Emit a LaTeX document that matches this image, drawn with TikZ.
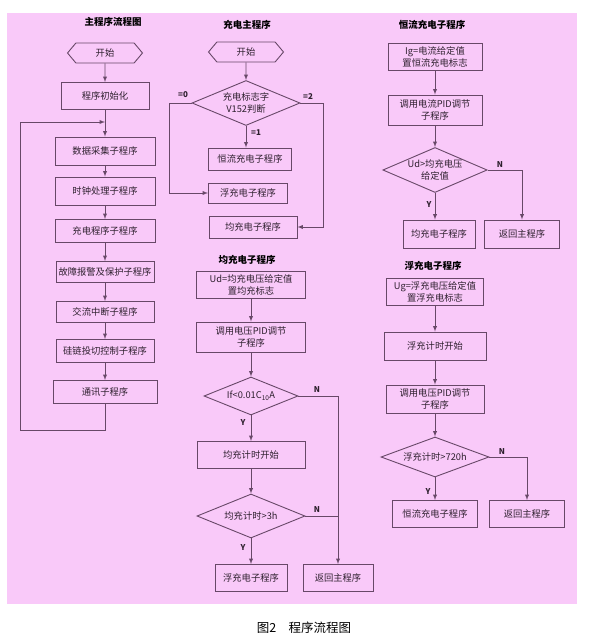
\documentclass[tikz,border=0pt]{standalone}
\usepackage{fontspec}
\setmainfont{Noto Sans CJK SC}
\usetikzlibrary{shapes.geometric,shapes.symbols}
\definecolor{flowpink}{HTML}{F9C9F9}
\definecolor{flowline}{HTML}{684868}
\definecolor{flowtext}{HTML}{2E202E}
\tikzset{
  box/.style={draw=flowline,line width=0.9pt,align=center,inner sep=1pt,text=flowtext,font=\fontsize{9.3}{12}\selectfont},
  startbox/.style={box,signal,signal to=east and west,signal pointer angle=100,minimum width=75pt,minimum height=20pt},
  decision/.style={box,diamond,aspect=2.4,inner sep=0pt},
  flowedge/.style={draw=flowline,line width=0.9pt},
  flowarrow/.style={flowedge,-latex},
  lbl/.style={text=flowtext,font=\fontsize{8}{9}\selectfont\bfseries},
  heading/.style={text=black,font=\fontsize{9.5}{11}\selectfont\bfseries}
}
\begin{document}
\begin{tikzpicture}[x=1pt,y=-1pt]
  \useasboundingbox (0,0) rectangle (593,636);
  \fill[flowpink] (7,13) rectangle (577,604);

  % main program
  \node[heading] (mtitle) at (113,22) {主程序流程图};
  \node[startbox] (mstart) at (105,53) {开始};
  \node[box,minimum width=88pt,minimum height=27pt] (minit) at (105,96) {程序初始化};
  \node[box,minimum width=100pt,minimum height=28pt] (mcollect) at (105,151) {数据采集子程序};
  \node[box,minimum width=100pt,minimum height=28pt] (mclock) at (105,191) {时钟处理子程序};
  \node[box,minimum width=100pt,minimum height=23pt] (mcharge) at (105,231) {充电程序子程序};
  \node[box,minimum width=98pt,minimum height=21pt] (mfault) at (105,272) {故障报警及保护子程序};
  \node[box,minimum width=98pt,minimum height=21pt] (mac) at (105,312) {交流中断子程序};
  \node[box,minimum width=98pt,minimum height=23pt] (mswitch) at (105,351) {硅链投切控制子程序};
  \node[box,minimum width=104pt,minimum height=23pt] (mcomm) at (105,392) {通讯子程序};
  \coordinate (mjoin) at (105,122);
  \draw[flowarrow] (mstart) -- (minit);
  \draw[flowarrow] (minit) -- (mcollect);
  \draw[flowarrow] (mcollect) -- (mclock);
  \draw[flowarrow] (mclock) -- (mcharge);
  \draw[flowarrow] (mcharge) -- (mfault);
  \draw[flowarrow] (mfault) -- (mac);
  \draw[flowarrow] (mac) -- (mswitch);
  \draw[flowarrow] (mswitch) -- (mcomm);
  \draw[flowarrow] (mcomm.south) -- ++(0,26) -| (20,122) -- (mjoin);

  % charging main program
  \node[heading] (ctitle) at (247,25) {充电主程序};
  \node[startbox] (cstart) at (246,52) {开始};
  \node[decision,minimum width=108pt,minimum height=45pt] (cjudge) at (246,103) {充电标志字\\V152判断};
  \node[box,minimum width=83pt,minimum height=22pt] (cconst) at (250,159) {恒流充电子程序};
  \node[box,minimum width=79pt,minimum height=20pt] (cfloat) at (248,193) {浮充电子程序};
  \node[box,minimum width=88pt,minimum height=22pt] (cequal) at (253,227) {均充电子程序};
  \draw[flowarrow] (cstart) -- (cjudge);
  \draw[flowarrow] (cjudge.south) -- (cjudge.south |- cconst.north);
  \draw[flowarrow] (cjudge.west) -- ++(-22,0) |- (cfloat);
  \draw[flowarrow] (cjudge.east) -- ++(23,0) |- (cequal);
  \node[lbl] (czero) at (183,95) {=0};
  \node[lbl] (cone) at (256,133) {=1};
  \node[lbl] (ctwo) at (308,97) {=2};

  % equalizing charge
  \node[heading] (etitle) at (247,260) {均充电子程序};
  \node[box,minimum width=109pt,minimum height=27pt] (eset) at (251,285) {Ud=均充电压给定值\\置均充标志};
  \node[box,minimum width=109pt,minimum height=30pt] (epid) at (251,337) {调用电压PID调节\\子程序};
  \node[decision,minimum width=94pt,minimum height=38pt] (ejudge) at (251,396) {If<0.01C\textsubscript{10}A};
  \node[box,minimum width=108pt,minimum height=27pt] (eclock) at (251,455) {均充计时开始};
  \node[decision,minimum width=108pt,minimum height=44pt] (ejudge2) at (251,516) {均充计时>3h};
  \node[box,minimum width=72pt,minimum height=27pt] (efloat) at (251,578) {浮充电子程序};
  \node[box,minimum width=70pt,minimum height=27pt] (eback) at (338,578) {返回主程序};
  \draw[flowarrow] (eset) -- (epid);
  \draw[flowarrow] (epid) -- (ejudge);
  \draw[flowarrow] (ejudge) -- (eclock);
  \draw[flowarrow] (eclock) -- (ejudge2);
  \draw[flowarrow] (ejudge2) -- (efloat);
  \draw[flowarrow] (ejudge.east) -| (eback.north);
  \draw[flowedge] (ejudge2.east) -- (ejudge2.east -| eback.north);
  \node[lbl] (eno) at (317,390) {N};
  \node[lbl] (eyes) at (243,423) {Y};
  \node[lbl] (eno2) at (317,510) {N};
  \node[lbl] (eyes2) at (243,548) {Y};

  % constant current charge
  \node[heading] (ititle) at (432,25) {恒流充电子程序};
  \node[box,minimum width=94pt,minimum height=27pt] (iset) at (435,57) {Ig=电流给定值\\置恒流充电标志};
  \node[box,minimum width=94pt,minimum height=30pt] (ipid) at (435,110) {调用电流PID调节\\子程序};
  \node[decision,minimum width=97pt,minimum height=45pt] (ijudge) at (435,170) {Ud>均充电压\\给定值};
  \node[box,minimum width=72pt,minimum height=28pt] (iequal) at (439,234) {均充电子程序};
  \node[box,minimum width=75pt,minimum height=28pt] (iback) at (522,234) {返回主程序};
  \draw[flowarrow] (iset) -- (ipid);
  \draw[flowarrow] (ipid) -- (ijudge);
  \draw[flowarrow] (ijudge.south) -- (ijudge.south |- iequal.north);
  \draw[flowarrow] (ijudge.east) -| (iback.north);
  \node[lbl] (ino) at (500,165) {N};
  \node[lbl] (iyes) at (429,205) {Y};

  % float charge
  \node[heading] (ftitle) at (433,266) {浮充电子程序};
  \node[box,minimum width=97pt,minimum height=27pt] (fset) at (435,292) {Ug=浮充电压给定值\\置浮充电标志};
  \node[box,minimum width=102pt,minimum height=28pt] (fclock) at (435,346) {浮充计时开始};
  \node[box,minimum width=98pt,minimum height=28pt] (fpid) at (435,399) {调用电压PID调节\\子程序};
  \node[decision,minimum width=108pt,minimum height=40pt] (fjudge) at (435,457) {浮充计时>720h};
  \node[box,minimum width=85pt,minimum height=27pt] (fconst) at (435,514) {恒流充电子程序};
  \node[box,minimum width=75pt,minimum height=27pt] (fback) at (527,514) {返回主程序};
  \draw[flowarrow] (fset) -- (fclock);
  \draw[flowarrow] (fclock) -- (fpid);
  \draw[flowarrow] (fpid) -- (fjudge);
  \draw[flowarrow] (fjudge) -- (fconst);
  \draw[flowarrow] (fjudge.east) -| (fback.north);
  \node[lbl] (fno) at (502,452) {N};
  \node[lbl] (fyes) at (428,492) {Y};

  \node[font=\fontsize{12.5}{14}\selectfont] (caption) at (304,628) {图2\quad 程序流程图};
\end{tikzpicture}
\end{document}
